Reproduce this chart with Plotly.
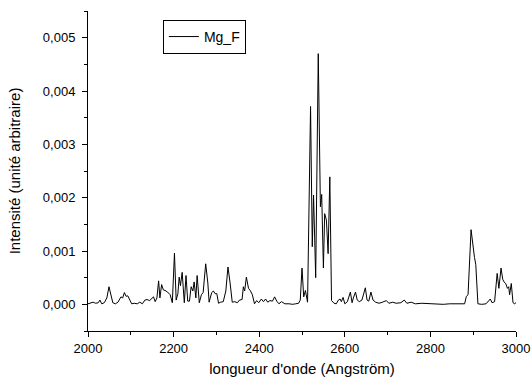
import plotly.graph_objects as go

wavelength = [2000, 2005, 2012, 2018, 2024, 2028, 2032, 2038, 2044, 2049, 2054, 2058, 2064, 2070,
              2077, 2081, 2085, 2089, 2093, 2097, 2102, 2108, 2115, 2121, 2127, 2133, 2138, 2144,
              2150, 2153, 2157, 2161, 2165, 2168, 2172, 2176, 2180, 2186, 2192, 2197, 2202, 2206,
              2210, 2213, 2216, 2220, 2225, 2229, 2233, 2237, 2241, 2245, 2248, 2252, 2255, 2260,
              2265, 2269, 2275, 2280, 2283, 2289, 2293, 2297, 2301, 2305, 2310, 2316, 2322, 2327,
              2332, 2337, 2343, 2349, 2354, 2360, 2363, 2366, 2370, 2375, 2379, 2384, 2389, 2394,
              2399, 2405, 2410, 2415, 2420, 2425, 2431, 2436, 2441, 2446, 2452, 2460, 2470, 2478,
              2485, 2492, 2496, 2500, 2504, 2508, 2513, 2520, 2524, 2527, 2532, 2538, 2543, 2546,
              2550, 2553, 2557, 2561, 2565, 2569, 2575, 2580, 2585, 2589, 2592, 2596, 2600, 2606,
              2613, 2617, 2620, 2625, 2629, 2634, 2640, 2648, 2652, 2656, 2661, 2666, 2672, 2680,
              2688, 2697, 2703, 2712, 2720, 2731, 2739, 2745, 2755, 2765, 2780, 2795, 2810, 2830,
              2845, 2860, 2880, 2884, 2888, 2895, 2899, 2903, 2906, 2911, 2920, 2930, 2940, 2944,
              2950, 2956, 2960, 2965, 2969, 2972, 2976, 2980, 2983, 2985, 2989, 2993, 2997, 3001]

intensity = [0.00001, 0.00002, 0.00004, 0.00002, 0.00003, 0.00008, 0.00001, 0.00003, 0.00012, 0.00033,
             0.00018, 0.00003, 0.00001, 0.00004, 0.00014, 0.00012, 0.00022, 0.00015, 0.00016, 0.00008,
             0.00001, 0.00002, 0.00001, 0.00004, 0.00001, 0.00008, 0.00009, 0.00007, 0.00012, 0.00014,
             0.00005, 0.00012, 0.00044, 0.00012, 0.00037, 0.00027, 0.00026, 0.00023, 0.00018, 0.00003,
             0.00096, 0.00008, 0.00020, 0.00051, 0.00035, 0.00060, 0.00003, 0.00054, 0.00006, 0.00006,
             0.00033, 0.00025, 0.00042, 0.00012, 0.00054, 0.00003, 0.00018, 0.00022, 0.00076, 0.00040,
             0.00004, 0.00022, 0.00025, 0.00020, 0.00020, 0.00002, 0.00004, 0.00005, 0.00025, 0.00070,
             0.00040, 0.00004, 0.00005, 0.00003, 0.00008, 0.00009, 0.00033, 0.00025, 0.00051, 0.00030,
             0.00026, 0.00018, 0.00001, 0.00007, 0.00003, 0.00010, 0.00005, 0.00010, 0.00004, 0.00007,
             0.00006, 0.00014, 0.00006, 0.00001, 0.00005, 0.00001, 0.00001, 0.00000, 0.00001, 0.00002,
             0.00008, 0.00068, 0.00014, 0.00026, 0.00004, 0.00371, 0.00108, 0.00205, 0.00050, 0.00470,
             0.00183, 0.00206, 0.00068, 0.00170, 0.00158, 0.00095, 0.00239, 0.00007, 0.00002, 0.00001,
             0.00008, 0.00010, 0.00005, 0.00013, 0.00001, 0.00005, 0.00023, 0.00003, 0.00012, 0.00023,
             0.00008, 0.00005, 0.00008, 0.00031, 0.00008, 0.00006, 0.00023, 0.00008, 0.00004, 0.00002,
             0.00004, 0.00007, 0.00002, 0.00004, 0.00002, 0.00003, 0.00008, 0.00002, 0.00004, 0.00001,
             0.00002, 0.00001, 0.00001, 0.00000, 0.00001, 0.00001, 0.00001, 0.00015, 0.00018, 0.00140,
             0.00108, 0.00088, 0.00075, 0.00001, 0.00000, 0.00001, 0.00010, 0.00003, 0.00005, 0.00058,
             0.00030, 0.00068, 0.00047, 0.00042, 0.00039, 0.00030, 0.00033, 0.00018, 0.00039, 0.00003,
             0.00001, 0.00004]

x_ticks = [2000, 2200, 2400, 2600, 2800, 3000]
y_ticks = [0.000, 0.001, 0.002, 0.003, 0.004, 0.005]

font_family = "Liberation Sans, Arial, sans-serif"

fig = go.Figure()
fig.add_trace(go.Scatter(x=wavelength, y=intensity, mode="lines", name="Mg_F",
                         line=dict(color="black", width=1)))

fig.update_layout(
    width=532, height=380,
    margin=dict(l=88, r=16, t=11, b=49),
    paper_bgcolor="white", plot_bgcolor="white",
    separators=", ",
    font=dict(family=font_family, size=13, color="black"),
    showlegend=True,
    legend=dict(x=0.175, y=0.972, xanchor="left", yanchor="top",
                bordercolor="black", borderwidth=1, bgcolor="white",
                font=dict(size=14, family=font_family),
                itemwidth=30, tracegroupgap=0),
    xaxis=dict(range=[2000, 3000], tickvals=x_ticks, showline=True, linecolor="black",
               linewidth=1, ticks="outside", ticklen=5, tickcolor="black", showgrid=False,
               zeroline=False, tickfont=dict(size=13),
               minor=dict(dtick=100, ticks="outside", ticklen=3, tickcolor="black", showgrid=False),
               automargin=False,
               title=dict(text="longueur d'onde (Angström)", font=dict(size=15), standoff=8)),
    yaxis=dict(range=[-0.0005, 0.0055], tickvals=y_ticks, tickformat=".3f", showline=True,
               linecolor="black", linewidth=1, ticks="outside", ticklen=5, tickcolor="black",
               showgrid=False, zeroline=False, tickfont=dict(size=13), ticklabelstandoff=4,
               minor=dict(dtick=0.0005, tick0=0, ticks="outside", ticklen=3, tickcolor="black", showgrid=False),
               automargin=False,
               title=dict(text="Intensité (unité arbitraire)", font=dict(size=15), standoff=18)),
)

fig.write_html("out.html")
